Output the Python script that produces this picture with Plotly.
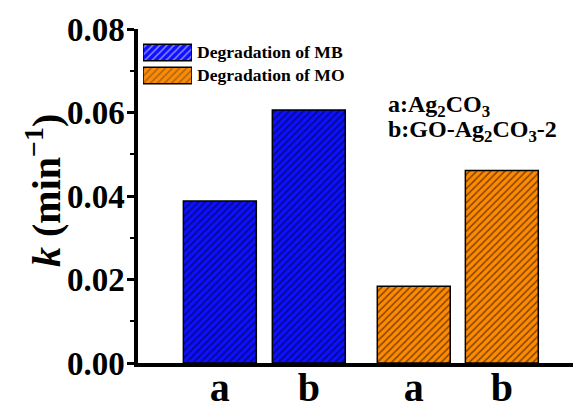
import plotly.graph_objects as go

positions = [1.0, 2.0, 3.18, 4.17]
tick_labels = ["a", "b", "a", "b"]
series_names = ["Degradation of MB", "Degradation of MO"]
series_colors = ["#0c10ff", "#ff8a00"]
mb_x = [1.0, 2.0]
mb_k = [0.0388, 0.0606]
mo_x = [3.18, 4.17]
mo_k = [0.0184, 0.0461]

FONT = "Liberation Serif"
OFF = 8  # page body margin in the html page
W, H = 581, 403
L, T, B, R = 138 - OFF, 29 - OFF, H - (363 - OFF), OFF
PW, PH = W - L - R, H - T - B


def px(x):
    return (x - OFF - L) / PW


def py(y):
    return (H - B - (y - OFF)) / PH


def pat(c):
    return dict(color=c, line=dict(color="black", width=1.5),
                pattern=dict(shape="/", fgcolor="black", bgcolor=c, size=5, solidity=0.3))


fig = go.Figure()
fig.add_trace(go.Bar(x=mb_x, y=mb_k, name=series_names[0], width=0.82, marker=pat(series_colors[0]), showlegend=False))
fig.add_trace(go.Bar(x=mo_x, y=mo_k, name=series_names[1], width=0.82, marker=pat(series_colors[1]), showlegend=False))

# custom legend swatches (larger than plotly's built-in ones)
fig.add_trace(go.Bar(x=[1, 1], y=[0, 1], orientation="h", width=0.72, xaxis="x2", yaxis="y2",
                     marker=dict(color=series_colors, line=dict(color="black", width=1.5),
                                 pattern=dict(shape="/", fgcolor="black", bgcolor=series_colors, size=5, solidity=0.3)),
                     showlegend=False, hoverinfo="skip"))

fig.update_layout(
    width=W, height=H,
    paper_bgcolor="white", plot_bgcolor="white",
    margin=dict(l=L, r=R, t=T, b=B, autoexpand=False),
    font=dict(family=FONT, color="black"),
    barmode="overlay",
    showlegend=False,
    xaxis=dict(range=[0.08, 5.06], tickvals=positions, ticktext=["<b>%s</b>" % t for t in tick_labels],
               tickfont=dict(size=40, family=FONT), showline=True, linecolor="black", linewidth=3.5,
               ticks="", showgrid=False, zeroline=False, automargin=False, ticklabelstandoff=-14),
    yaxis=dict(range=[0, 0.08], dtick=0.02, tickformat=".2f", showline=True, linecolor="black", linewidth=3.5,
               ticks="outside", ticklen=7, tickwidth=2.5, tickcolor="black",
               tickfont=dict(size=33, family=FONT), showgrid=False, zeroline=False, automargin=False,
               minor=dict(dtick=0.01, ticks="outside", ticklen=4, tickwidth=2, tickcolor="black"),
               tickprefix="<b>", ticksuffix="</b>", ticklabelstandoff=-4),
    xaxis2=dict(domain=[px(143), px(192)], range=[0, 1], visible=False, fixedrange=True),
    yaxis2=dict(domain=[py(87), py(41)], range=[1.5, -0.5], visible=False, fixedrange=True, anchor="x2"),
)

# y-axis title
fig.add_annotation(xref="paper", yref="paper", x=px(43), y=py(191), xanchor="center", yanchor="middle",
                   textangle=-90, text="<b><i>k</i> (min<sup>−1</sup>)</b>", showarrow=False,
                   font=dict(size=40, family=FONT, color="black"))

for i, name in enumerate(series_names):
    fig.add_annotation(xref="paper", yref="y2", x=px(195), y=i, xanchor="left", yanchor="middle",
                       text="<b>%s</b>" % name, showarrow=False, font=dict(size=17.6, family=FONT, color="black"))

fig.add_annotation(xref="paper", yref="paper", x=px(386), y=py(106), xanchor="left", yanchor="middle",
                   text="<b>a:Ag<sub>2</sub>CO<sub>3</sub></b>", showarrow=False,
                   font=dict(size=24, family=FONT, color="black"))
fig.add_annotation(xref="paper", yref="paper", x=px(386), y=py(131), xanchor="left", yanchor="middle",
                   text="<b>b:GO-Ag<sub>2</sub>CO<sub>3</sub>-2</b>", showarrow=False,
                   font=dict(size=24, family=FONT, color="black"))

fig.write_html("out.html")
